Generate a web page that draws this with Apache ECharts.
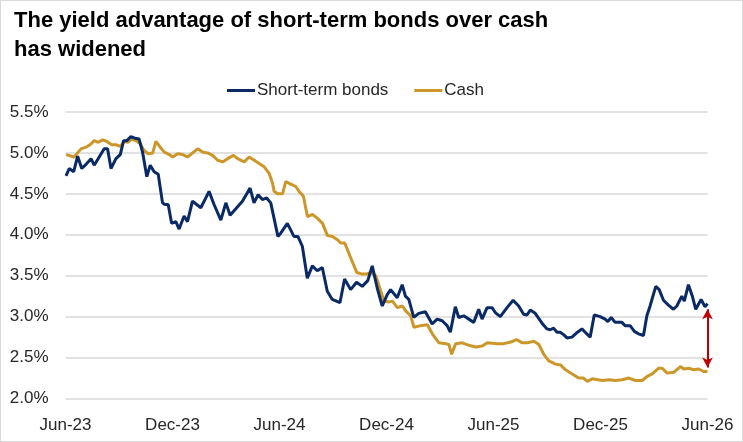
<!DOCTYPE html>
<html>
<head>
<meta charset="utf-8">
<script src="https://cdn.jsdelivr.net/npm/echarts@6/dist/echarts.min.js"></script>
<style>
html,body{margin:0;padding:0;background:#fff;}
#c{width:741px;height:440px;border:1px solid #d9d9d9;}
</style>
</head>
<body>
<div id="c"></div>
<script>
// x positions are months since Jun-23
const tickLabels = ['Jun-23','Dec-23','Jun-24','Dec-24','Jun-25','Dec-25','Jun-26'];
const yTicks = [2.0, 2.5, 3.0, 3.5, 4.0, 4.5, 5.0, 5.5];

const bondMonths = [0.03,0.21,0.46,0.68,0.91,1.15,1.43,1.61,1.89,2.17,2.36,2.55,2.83,3.07,3.26,3.44,3.67,3.89,4.13,4.32,4.56,4.75,4.97,5.20,5.44,5.57,5.76,5.95,6.19,6.37,6.65,6.84,7.12,7.59,8.05,8.33,8.71,8.99,9.23,9.92,10.35,10.57,10.80,11.04,11.28,11.51,11.91,12.07,12.44,12.81,13.03,13.28,13.56,13.84,14.12,14.40,14.68,14.96,15.39,15.65,15.99,16.32,16.64,16.95,17.20,17.48,17.76,18.04,18.23,18.60,18.88,19.06,19.25,19.53,19.81,20.18,20.56,20.84,21.12,21.40,21.58,21.86,22.05,22.33,22.89,23.17,23.36,23.64,23.92,24.10,24.38,24.76,25.10,25.41,25.69,25.88,26.06,26.34,26.72,27.00,27.18,27.37,27.56,27.74,27.93,28.12,28.40,28.71,28.96,29.14,29.42,29.65,29.98,30.26,30.41,30.60,30.82,31.20,31.38,31.66,31.90,32.13,32.41,32.60,32.78,33.10,33.29,33.53,33.81,34.09,34.28,34.56,34.70,34.93,35.15,35.34,35.64,35.86,36.00];
const bondValues = [4.72,4.81,4.77,4.96,4.81,4.86,4.93,4.85,4.95,5.05,5.05,4.81,4.93,4.98,5.15,5.15,5.20,5.18,5.17,5.01,4.71,4.85,4.77,4.74,4.39,4.37,4.37,4.14,4.16,4.07,4.23,4.16,4.41,4.33,4.53,4.37,4.18,4.39,4.24,4.41,4.57,4.39,4.49,4.43,4.45,4.39,3.98,4.02,4.14,3.98,3.98,3.86,3.47,3.62,3.56,3.60,3.31,3.21,3.17,3.46,3.33,3.42,3.37,3.44,3.62,3.35,3.13,3.27,3.33,3.23,3.39,3.25,3.21,2.99,3.04,3.06,2.91,2.97,2.95,2.89,2.81,3.12,2.99,3.01,2.93,3.09,2.97,3.11,3.11,3.05,3.00,3.11,3.20,3.13,3.03,3.02,3.08,3.04,2.92,2.85,2.84,2.86,2.81,2.81,2.78,2.74,2.75,2.81,2.85,2.81,2.75,3.02,3.00,2.97,2.94,2.99,2.93,2.93,2.89,2.89,2.82,2.79,2.77,3.01,3.13,3.37,3.33,3.20,3.14,3.09,3.13,3.25,3.19,3.39,3.25,3.09,3.21,3.12,3.16];

const cashMonths = [0.03,0.49,0.87,1.15,1.43,1.61,1.84,2.08,2.32,2.59,2.83,3.07,3.29,3.52,3.71,3.95,4.19,4.41,4.64,4.89,5.07,5.31,5.54,5.82,6.01,6.29,6.57,6.85,7.13,7.41,7.69,7.97,8.25,8.53,8.81,9.09,9.42,9.65,10.02,10.30,10.58,10.86,11.14,11.42,11.61,11.70,11.92,12.17,12.35,12.63,12.91,13.10,13.34,13.57,13.85,14.13,14.41,14.69,14.97,15.25,15.43,15.66,15.99,16.33,16.65,16.89,17.12,17.40,17.68,17.86,18.14,18.33,18.61,18.89,19.08,19.36,19.54,19.92,20.29,20.57,20.94,21.32,21.50,21.65,21.88,22.25,22.62,23.00,23.37,23.65,24.21,24.58,24.96,25.29,25.61,25.89,26.26,26.54,26.82,27.10,27.48,27.76,28.04,28.41,28.78,29.03,29.26,29.54,30.10,30.47,30.84,31.22,31.59,31.96,32.34,32.62,32.90,33.27,33.46,33.74,34.11,34.48,34.67,34.95,35.23,35.51,35.78,36.00];
const cashValues = [4.98,4.95,5.05,5.07,5.11,5.15,5.13,5.16,5.14,5.10,5.10,5.08,5.14,5.13,5.17,5.15,5.11,5.03,4.99,5.00,5.14,5.07,5.01,4.98,4.95,4.99,4.98,4.95,5.00,5.05,5.01,5.00,4.97,4.91,4.89,4.93,4.97,4.93,4.89,4.95,4.91,4.87,4.83,4.75,4.63,4.53,4.50,4.50,4.65,4.62,4.59,4.53,4.47,4.22,4.25,4.20,4.14,3.99,3.98,3.94,3.90,3.90,3.72,3.54,3.52,3.52,3.54,3.50,3.31,3.19,3.18,3.19,3.11,3.13,3.07,3.01,2.87,2.89,2.90,2.79,2.68,2.67,2.66,2.54,2.67,2.68,2.65,2.63,2.64,2.68,2.67,2.67,2.69,2.72,2.68,2.68,2.70,2.66,2.54,2.46,2.42,2.41,2.35,2.30,2.25,2.25,2.21,2.24,2.22,2.23,2.22,2.23,2.25,2.22,2.22,2.27,2.30,2.37,2.37,2.31,2.32,2.39,2.36,2.37,2.35,2.36,2.33,2.33];

const bondData = bondMonths.map((m, i) => [m, bondValues[i]]);
const cashData = cashMonths.map((m, i) => [m, cashValues[i]]);
const lastM = bondMonths[bondMonths.length - 1];
const lastBond = bondValues[bondValues.length - 1];
const lastCash = cashValues[cashValues.length - 1];

const FONT = 'Liberation Sans, Arial, sans-serif';
const chart = echarts.init(document.getElementById('c'), null, {renderer: 'canvas'});
chart.setOption({
  animation: false,
  backgroundColor: '#fff',
  title: {
    text: 'The yield advantage of short-term bonds over cash\nhas widened',
    left: 8, top: 0,
    textStyle: {fontFamily: FONT, fontWeight: 'bold', fontSize: 22, lineHeight: 29, color: '#000'}
  },
  legend: {
    top: 76, left: 221,
    itemWidth: 28, itemHeight: 3, itemGap: 26,
    icon: 'rect',
    textStyle: {fontFamily: FONT, fontSize: 17, color: '#262626', padding: [0, 0, 0, -3]},
    data: ['Short-term bonds', 'Cash']
  },
  grid: {left: 64.5, right: 34.5, top: 111, bottom: 42.5, containLabel: false},
  xAxis: {
    type: 'value', min: 0, max: 36, interval: 6,
    axisLine: {show: false}, axisTick: {show: false}, splitLine: {show: false},
    axisLabel: {
      showMinLabel: true, showMaxLabel: true, margin: 18,
      fontFamily: FONT, fontSize: 17, color: '#262626',
      formatter: v => tickLabels[Math.round(v / 6)]
    }
  },
  yAxis: {
    type: 'value', min: yTicks[0], max: yTicks[yTicks.length - 1], interval: 0.5,
    axisLine: {show: false}, axisTick: {show: false},
    splitLine: {lineStyle: {color: '#d9d9d9', width: 1.5}},
    axisLabel: {margin: 17, fontFamily: FONT, fontSize: 17, color: '#262626',
      formatter: v => v.toFixed(1) + '%'}
  },
  series: [
    {
      name: 'Short-term bonds', type: 'line', data: bondData,
      showSymbol: false, symbol: 'none',
      lineStyle: {color: '#0a2a66', width: 3}, itemStyle: {color: '#0a2a66'},
      z: 3
    },
    {
      name: 'Cash', type: 'line', data: cashData,
      showSymbol: false, symbol: 'none',
      lineStyle: {color: '#cc9628', width: 3}, itemStyle: {color: '#cc9628'},
      z: 2,
      markLine: {
        silent: true, symbol: ['arrow', 'arrow'], symbolSize: [8, 10],
        lineStyle: {color: '#c00000', width: 2, type: 'solid'},
        label: {show: false},
        data: [[{coord: [lastM, lastBond - 0.07]}, {coord: [lastM, lastCash + 0.05]}]]
      }
    }
  ]
});
</script>
</body>
</html>
